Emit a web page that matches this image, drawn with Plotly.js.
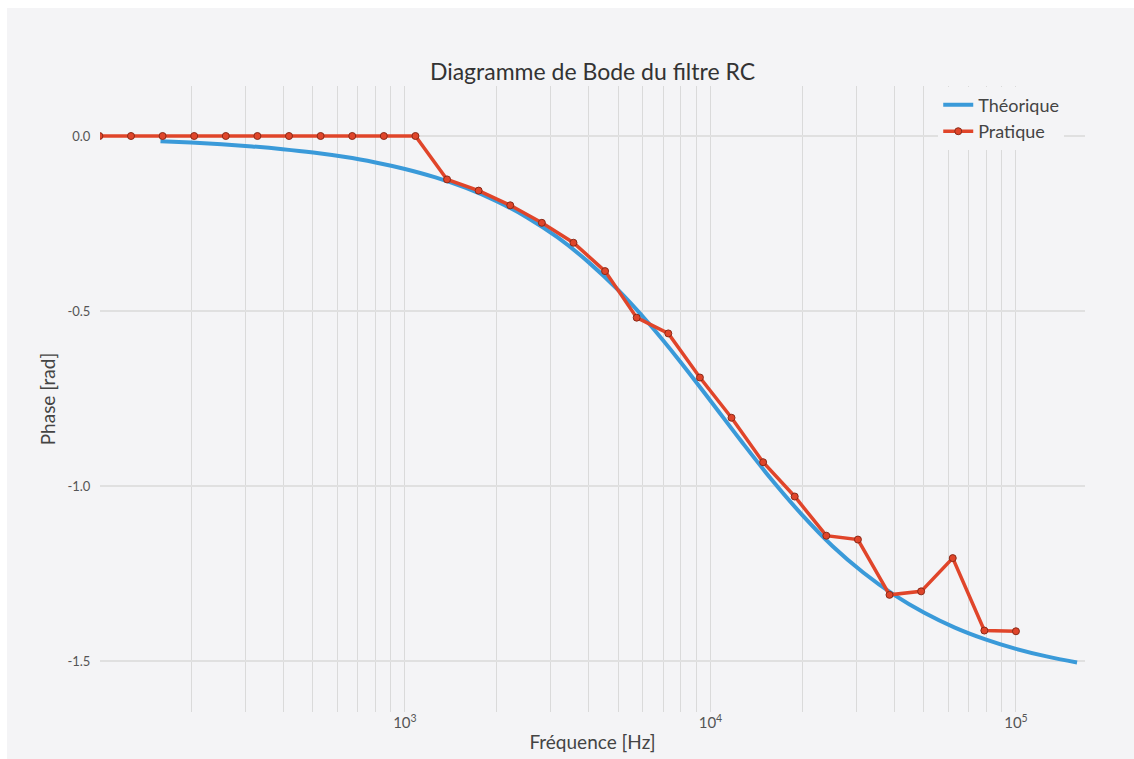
<!DOCTYPE html>
<html>
<head>
<meta charset="utf-8">
<script src="https://cdn.plot.ly/plotly-3.0.1.min.js"></script>
<style>
  html, body { margin: 0; padding: 0; background: #ffffff; width: 1134px; height: 759px; overflow: hidden; }
  #chart { position: absolute; left: 7px; top: 8px; width: 1127px; height: 751px; }
</style>
</head>
<body>
<div id="chart"></div>
<script>
// Theoretical phase curve
const freqTheorique = [158.5, 199.5, 251.2, 316.2, 398.1, 501.2, 631.0, 794.3, 1000, 1258.9,
  1584.9, 1995.3, 2511.9, 3162.3, 3981.1, 5011.9, 6309.6, 7943.3, 10000, 12589,
  15849, 19953, 25119, 31623, 39811, 50119, 63096, 79433, 100000, 125893, 158489];
const phaseTheorique = [-0.0150, -0.0188, -0.0237, -0.0298, -0.0375, -0.0472, -0.0595, -0.0748, -0.0941, -0.1182,
  -0.1484, -0.1861, -0.2327, -0.2899, -0.3596, -0.4419, -0.5372, -0.6433, -0.7563, -0.8709,
  -0.9814, -1.0824, -1.1720, -1.2470, -1.3102, -1.3621, -1.4044, -1.4381, -1.4652, -1.4868, -1.5040];

// Measured phase
const freqPratique = [100, 126.9, 161.0, 204.3, 259.3, 329.0, 417.5, 529.8, 672.3, 853.2,
  1082.6, 1373.8, 1743.3, 2212.2, 2807.2, 3562.2, 4520.4, 5736.2, 7278.9, 9236.7,
  11721, 14874, 18874, 23950, 30392, 38566, 48939, 62102, 78805, 100000];
const phasePratique = [0, 0, 0, 0, 0, 0, 0, 0, 0, 0,
  0, -0.124, -0.156, -0.198, -0.248, -0.305, -0.386, -0.519, -0.564, -0.690,
  -0.805, -0.932, -1.030, -1.142, -1.153, -1.311, -1.301, -1.206, -1.413, -1.415];

const yTickVals = [0, -0.5, -1.0, -1.5];
const yTickText = ["0.0", "-0.5", "-1.0", "-1.5"];

const seriesNames = ["Théorique", "Pratique"];
const chartTitle = "Diagramme de Bode du filtre RC";
const xTitle = "Fréquence [Hz]";
const yTitle = "Phase [rad]";

const FONT = "Lato, 'Open Sans', sans-serif";
const BG = "#f4f4f6";

const traces = [
  {
    x: freqTheorique, y: phaseTheorique, name: seriesNames[0],
    type: "scatter", mode: "lines",
    line: { color: "#3a9ad9", width: 4, shape: "spline" }
  },
  {
    x: freqPratique, y: phasePratique, name: seriesNames[1],
    type: "scatter", mode: "lines+markers",
    line: { color: "#e0452a", width: 3.5 },
    marker: { color: "#e0452a", size: 7, line: { color: "#8a2a18", width: 1 } }
  }
];

const layout = {
  width: 1127, height: 751,
  margin: { l: 93, r: 49, t: 78, b: 47 },
  paper_bgcolor: BG, plot_bgcolor: BG,
  font: { family: FONT, color: "#444" },
  title: {
    text: chartTitle, font: { family: FONT, size: 23, color: "#333" },
    x: 0.5, xref: "paper", xanchor: "center",
    y: 1 - 64 / 751, yref: "container", yanchor: "middle"
  },
  showlegend: true,
  legend: {
    x: 0.851, xanchor: "left", y: 0.999, yanchor: "top",
    bgcolor: BG, borderwidth: 0,
    font: { family: FONT, size: 18, color: "#444" }
  },
  xaxis: {
    type: "log", range: [2.002, 5.226],
    dtick: 1, exponentformat: "power",
    showgrid: true, gridcolor: "#dadada", gridwidth: 1,
    minor: { dtick: "D1", showgrid: true, gridcolor: "#dadada", gridwidth: 1, ticks: "" },
    zeroline: false, showline: false, ticks: "",
    tickfont: { family: FONT, size: 12, color: "#555" },
    title: { text: xTitle, font: { family: FONT, size: 19, color: "#444" }, standoff: 5 }
  },
  yaxis: {
    range: [-1.6457, 0.1429],
    tickmode: "array", tickvals: yTickVals, ticktext: yTickText,
    showgrid: true, gridcolor: "#e0e0e0", gridwidth: 1.5,
    zeroline: false, showline: false,
    ticks: "outside", ticklen: 6, tickcolor: "rgba(0,0,0,0)",
    tickfont: { family: FONT, size: 13, color: "#555" },
    title: { text: yTitle, font: { family: FONT, size: 19, color: "#444" }, standoff: 6 }
  }
};

Plotly.newPlot("chart", traces, layout, { displayModeBar: false, staticPlot: true });
</script>
</body>
</html>
